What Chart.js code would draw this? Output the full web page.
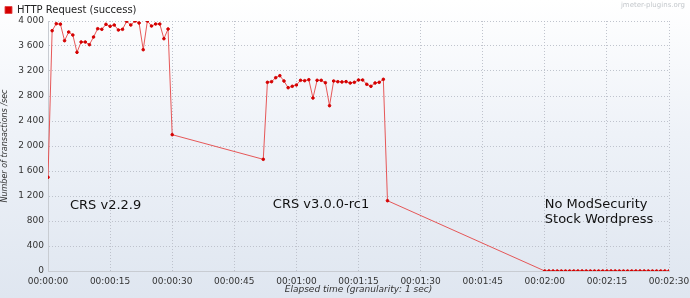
<!DOCTYPE html>
<html lang="en">
  <head>
    <meta charset="UTF-8" />
    <title>HTTP Request (success)</title>
    <script src="https://cdn.jsdelivr.net/npm/chart.js"></script>
    <style>
      html, body { margin: 0; padding: 0; }
      body {
        width: 690px;
        height: 298px;
        background: linear-gradient(to bottom, #ffffff 0%, #eef2f8 45%, #dfe6f0 100%);
        font-family: "DejaVu Sans", sans-serif;
      }
      #wrap { position: relative; width: 690px; height: 298px; }
      #mark {
        position: absolute; right: 5px; top: 1px;
        font-size: 7px; color: #c4c8cc;
      }
    </style>
  </head>
  <body>
    <div id="wrap">
      <canvas id="tpsChart" width="690" height="298"></canvas>
      <div id="mark">jmeter-plugins.org</div>
    </div>

    <script>
      // elapsed seconds of each sample
      const seconds = [
        0, 1, 2, 3, 4, 5, 6, 7, 8, 9, 10, 11, 12, 13, 14, 15, 16, 17, 18, 19,
        20, 21, 22, 23, 24, 25, 26, 27, 28, 29, 30,
        52, 53, 54, 55, 56, 57, 58, 59, 60, 61, 62, 63, 64, 65, 66, 67, 68,
        69, 70, 71, 72, 73, 74, 75, 76, 77, 78, 79, 80, 81, 82,
        120, 121, 122, 123, 124, 125, 126, 127, 128, 129, 130, 131, 132, 133,
        134, 135, 136, 137, 138, 139, 140, 141, 142, 143, 144, 145, 146, 147,
        148, 149, 150
      ];
      // transactions per second
      const tps = [
        1500, 3845, 3957, 3950, 3685, 3824, 3776, 3499, 3664, 3664, 3621,
        3744, 3877, 3867, 3947, 3915, 3936, 3856, 3867, 3995, 3936, 4000,
        3968, 3541, 4000, 3920, 3952, 3952, 3717, 3872, 2181,
        1787, 3019, 3029, 3093, 3125, 3040, 2933, 2955, 2976, 3051, 3045,
        3061, 2768, 3051, 3051, 3013, 2645, 3040, 3029, 3025, 3030, 3008,
        3019, 3056, 3056, 2987, 2955, 3008, 3019, 3067, 1125,
        0, 0, 0, 0, 0, 0, 0, 0, 0, 0, 0, 0, 0, 0, 0, 0, 0, 0, 0, 0, 0, 0,
        0, 0, 0, 0, 0, 0, 0, 0, 0
      ];

      // text notes placed in data space
      const noteLines = [
        ["CRS v2.2.9"],
        ["CRS v3.0.0-rc1"],
        ["No ModSecurity", "Stock Wordpress"]
      ];
      const noteX = [5.3, 54.3, 120];
      const noteY = [1040, 1056, 1056];

      const points = seconds.map((s, i) => ({ x: s, y: tps[i] }));

      function hms(v) {
        const h = Math.floor(v / 3600);
        const m = Math.floor((v % 3600) / 60);
        const s = v % 60;
        const p = (n) => String(n).padStart(2, "0");
        return p(h) + ":" + p(m) + ":" + p(s);
      }

      // draws the notes at scale positions
      const notesPlugin = {
        id: "notes",
        afterDatasetsDraw(chart) {
          const ctx = chart.ctx;
          const xs = chart.scales.x;
          const ys = chart.scales.y;
          ctx.save();
          ctx.fillStyle = "#111";
          ctx.font = "13px 'DejaVu Sans'";
          ctx.textBaseline = "middle";
          noteLines.forEach((lines, i) => {
            const px = xs.getPixelForValue(noteX[i]);
            const py = ys.getPixelForValue(noteY[i]);
            lines.forEach((t, j) => ctx.fillText(t, px, py + j * 15));
          });
          ctx.restore();
        },
        beforeInit(chart) {
          const fit = chart.legend.fit;
          chart.legend.fit = function () {
            fit.bind(chart.legend)();
            this.height = 21;
          };
        },
      };

      const config = {
        type: "line",
        data: {
          datasets: [
            {
              label: "HTTP Request (success)",
              data: points,
              borderColor: "rgba(228, 70, 70, 0.9)",
              backgroundColor: "#d40000",
              pointBackgroundColor: "#d40000",
              pointBorderColor: "#d40000",
              borderWidth: 1,
              pointRadius: 1.3,
              pointHoverRadius: 1.3,
              fill: false,
              tension: 0,
            },
          ],
        },
        options: {
          responsive: false,
          animation: false,
          layout: { padding: { left: 0, right: 21, top: 0, bottom: 3 } },
          plugins: {
            legend: {
              position: "top",
              align: "start",
              labels: {
                boxWidth: 7,
                boxHeight: 7,
                padding: 5,
                color: "#222",
                font: { family: "DejaVu Sans", size: 10 },
              },
            },
            tooltip: { enabled: false },
          },
          scales: {
            x: {
              type: "linear",
              min: 0,
              max: 150,
              afterBuildTicks(scale) {
                scale.ticks = [];
                for (let v = 0; v <= 150; v += 15) scale.ticks.push({ value: v });
              },
              afterFit(scale) {
                scale.height = 24;
                scale.paddingLeft = 0;
                scale.paddingRight = 0;
              },
              ticks: {
                autoSkip: false,
                maxRotation: 0,
                padding: 5,
                color: "#333",
                font: { family: "DejaVu Sans", size: 9 },
                callback: (v) => hms(v),
              },
              grid: {
                color: "rgba(185, 190, 200, 0.9)",
                drawTicks: false,
              },
              border: { color: "#c8ccd2", dash: [1, 2] },
              title: {
                display: true,
                text: "Elapsed time (granularity: 1 sec)",
                color: "#333",
                padding: 0,
                font: { family: "DejaVu Sans", size: 9, style: "italic" },
              },
            },
            y: {
              min: 0,
              max: 4000,
              afterBuildTicks(scale) {
                scale.ticks = [];
                for (let v = 0; v <= 4000; v += 400) scale.ticks.push({ value: v });
              },
              afterFit(scale) {
                scale.width = 48;
                scale.paddingTop = 0;
                scale.paddingBottom = 0;
              },
              ticks: {
                padding: 4,
                color: "#333",
                font: { family: "DejaVu Sans", size: 9 },
                callback: (v) => String(v).replace(/\B(?=(\d{3})+(?!\d))/g, " "),
              },
              grid: {
                color: "rgba(185, 190, 200, 0.9)",
                drawTicks: false,
              },
              border: { color: "#c8ccd2", dash: [1, 2] },
              title: {
                display: true,
                text: "Number of transactions /sec",
                color: "#333",
                padding: 0,
                font: { family: "DejaVu Sans", size: 8, style: "italic" },
              },
            },
          },
        },
        plugins: [notesPlugin],
      };

      var tpsChart = new Chart(document.getElementById("tpsChart"), config);
    </script>
  </body>
</html>
